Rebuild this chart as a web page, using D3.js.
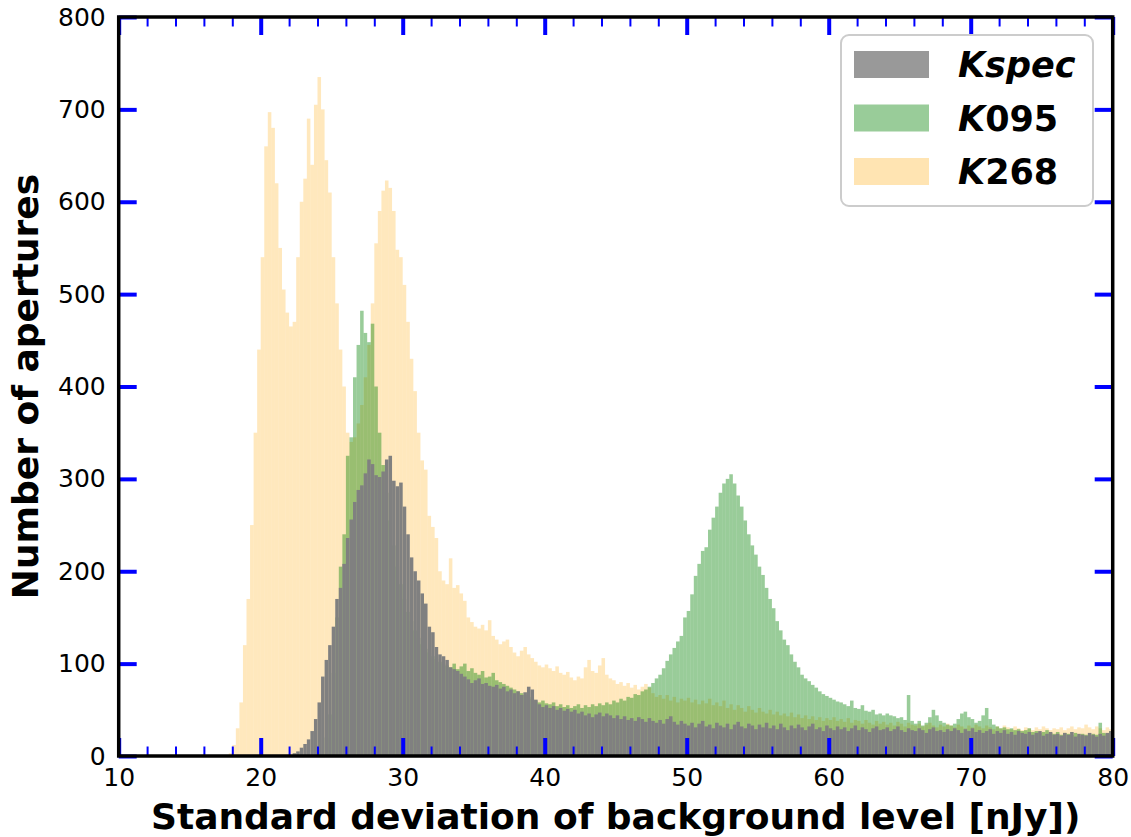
<!DOCTYPE html>
<html>
<head>
<meta charset="utf-8">
<script src="https://cdn.jsdelivr.net/npm/d3@7"></script>
<style>
  body { margin: 0; background: #fff; }
  text { font-family: "DejaVu Sans", sans-serif; }
</style>
</head>
<body>
<div id="chart"></div>
<script>
// histogram bins, width in nJy
var binWidth = 0.25;

// Kspec counts from 22.0 nJy
var kspecStart = 22.0;
var kspecCounts = [
  1, 3, 5, 9, 13, 18, 27, 40, 58, 86, 104, 120,
  140, 170, 182, 208, 236, 256, 275, 288, 293, 306, 321, 316,
  304, 302, 308, 321, 325, 298, 292, 296, 270, 240, 215, 200,
  190, 176, 165, 140, 134, 118, 110, 108, 104, 96, 94, 92,
  89, 86, 83, 79, 82, 84, 78, 79, 76, 75, 77, 73,
  75, 70, 72, 68, 70, 66, 69, 75, 72, 61, 56, 53,
  55, 52, 54, 50, 52, 49, 51, 48, 50, 46, 48, 44,
  46, 42, 45, 47, 43, 46, 44, 41, 44, 40, 43, 39,
  41, 38, 42, 40, 37, 41, 38, 36, 39, 35, 40, 43,
  37, 34, 38, 35,
  33, 36, 31, 35, 38, 32, 34, 30,
  36, 33, 31, 35, 29, 34, 37, 32,
  30, 35, 33, 29, 34, 31, 36, 30,
  33, 29, 35, 31, 28, 33, 30, 34,
  31, 28, 32, 35, 29, 31, 27, 33,
  30, 28, 32, 29, 31, 27, 30, 33,
  28, 31, 29, 26, 30, 32, 28, 29,
  31, 27, 29, 32, 28, 26, 30, 28,
  27, 30, 28, 25, 29, 31, 27, 28,
  26, 29, 27, 30, 28, 25, 29, 27,
  30, 26, 28, 25, 27, 29, 24, 27,
  25, 28, 24, 26, 23, 27, 25, 24,
  26, 23, 25, 27, 22, 24, 26, 23,
  24, 22, 25, 23, 26, 21, 24, 23,
  22, 25, 23, 21, 24, 22, 25, 27
];

// K095 counts from 24.5 nJy
var k095Start = 24.5;
var k095Counts = [
  20, 45,
  90, 150, 205, 240, 325, 345, 410, 445, 482, 458, 448, 468,
  400, 350, 315, 285, 255, 228, 205, 186, 170, 156, 146, 136,
  128, 121, 116, 112, 108, 105, 102, 100, 98, 96, 100, 94,
  97, 100, 92, 95, 90, 88, 92, 85, 86, 90, 82, 80,
  78, 76, 74, 72, 70, 68, 66, 64, 62, 60, 58, 60,
  57, 56, 58, 54, 56, 53, 55, 52, 54, 56, 52, 55,
  53, 56, 54, 57, 55, 58, 56, 60, 58, 62, 60, 64,
  63, 67, 66, 70, 72, 75, 79, 84, 88, 95, 103, 110,
  117, 124, 130, 150, 157, 175, 195, 208, 222, 226, 245, 258,
  270, 285, 295, 300, 305, 295, 282, 270, 255, 240, 228, 218,
  205, 196, 182, 170, 160, 146, 136, 126, 120, 110, 102, 96,
  88, 84, 81, 77, 74, 70, 67, 65, 63, 61, 59, 58,
  56, 54, 60, 52, 51, 55, 49, 48, 50, 45, 46, 44,
  46, 44, 43, 41, 42, 39, 66, 38, 35, 38, 33, 36,
  42, 50, 44, 38, 36, 34, 33, 35, 40, 46, 48, 42,
  40, 36, 38, 44, 52, 40, 34, 32, 30, 31, 29, 30,
  28, 29, 27, 28, 30, 26, 27, 25, 26, 28, 25, 24,
  26, 23, 25, 24, 23, 25, 22, 24, 23, 22, 24, 23,
  36, 25, 24, 27
];

// K268 counts from 17.75 nJy
var k268Start = 17.75;
var k268Counts = [
  3,
  12, 30, 58, 120, 170, 250, 350, 440, 540, 660, 697, 680,
  620, 550, 505, 480, 465, 470, 540, 600, 625, 690, 640, 705,
  735, 700, 645, 610, 540, 490, 440, 400, 350, 340, 345, 360,
  380, 410, 445, 490, 555, 590, 612, 623, 615, 590, 548, 540,
  510, 470, 430, 395, 350, 320, 310, 260, 248, 236, 200, 190,
  186, 214, 182, 185, 176, 168, 150, 145, 140, 138, 142, 136,
  147, 130, 126, 121, 124, 126, 118, 112, 108, 114, 118, 110,
  106, 102, 98, 96, 99, 95, 92, 97, 90, 88, 91, 85,
  82, 86, 84, 96, 104, 92, 90, 98, 106, 88, 84, 82,
  78, 80, 76, 79, 74, 77, 72, 75, 78, 74, 68, 64,
  66, 62, 66, 60, 64, 58, 62, 60,
  63, 58, 61, 56, 60, 57, 62, 55,
  58, 54, 60, 52, 56, 50, 55, 52,
  48, 54, 50, 47, 52, 48, 46, 50,
  45, 48, 44, 46, 43, 47, 42, 45,
  41, 44, 40, 43, 39, 42, 38, 41,
  39, 42, 38, 40, 37, 41, 36, 39,
  38, 35, 39, 36, 34, 38, 35, 37,
  34, 36, 33, 37, 35, 32, 36, 34,
  33, 35, 32, 34, 36, 33, 31, 34,
  32, 35, 33, 31, 34, 32, 30, 33,
  31, 34, 32, 30, 33, 31, 29, 32,
  30, 33, 31, 29, 32, 30, 28, 31,
  30, 28, 31, 29, 32, 30, 28, 30,
  29, 31, 28, 30, 32, 29, 31, 30,
  34, 31, 29, 32, 30, 28, 31, 29
];

var seriesNames = ["Kspec", "K095", "K268"];
var xTickValues = [10, 20, 30, 40, 50, 60, 70, 80];
var xMinorTickValues = [12, 14, 16, 18, 22, 24, 26, 28, 32, 34, 36, 38, 42, 44, 46, 48,
  52, 54, 56, 58, 62, 64, 66, 68, 72, 74, 76, 78];
var yTickValues = [0, 100, 200, 300, 400, 500, 600, 700, 800];

var svgWidth = 1131;
var svgHeight = 837;

var margin = {
  top: 17,
  right: 18.3,
  bottom: 81,
  left: 118.7
};

var width = svgWidth - margin.left - margin.right;
var height = svgHeight - margin.top - margin.bottom;

var svg = d3.select("#chart")
  .append("svg")
  .attr("width", svgWidth)
  .attr("height", svgHeight);

var chartGroup = svg.append("g")
  .attr("transform", `translate(${margin.left}, ${margin.top})`);

var xScale = d3.scaleLinear().domain([10, 80]).range([0, width]);
var yScale = d3.scaleLinear().domain([0, 800]).range([height, 0]);

function makeBins(start, counts) {
  return counts.map(function(c, i) {
    return { x0: start + i * binWidth, x1: start + (i + 1) * binWidth, count: c };
  });
}

// draw order: K268 underneath, then K095, Kspec on top
var layers = [
  { name: "K268", bins: makeBins(k268Start, k268Counts), fill: "#ffa500", opacity: 0.26 },
  { name: "K095", bins: makeBins(k095Start, k095Counts), fill: "#008000", opacity: 0.4 },
  { name: "Kspec", bins: makeBins(kspecStart, kspecCounts), fill: "#808080", opacity: 1 }
];

layers.forEach(function(layer) {
  chartGroup.append("g")
    .attr("fill", layer.fill)
    .attr("fill-opacity", layer.opacity)
    .selectAll("rect")
    .data(layer.bins)
    .enter()
    .append("rect")
    .attr("x", d => xScale(d.x0))
    .attr("width", d => xScale(d.x1) - xScale(d.x0))
    .attr("y", d => yScale(d.count))
    .attr("height", d => height - yScale(d.count));
});

// ticks point inwards on all four sides
function styleTicks(g, w) {
  g.select(".domain").remove();
  g.selectAll(".tick line").attr("stroke", "#0000ff").attr("stroke-width", w);
  g.selectAll(".tick text").attr("font-size", "25px").attr("fill", "#000");
}

chartGroup.append("g")
  .attr("transform", `translate(0, ${height})`)
  .call(d3.axisBottom(xScale).tickValues(xMinorTickValues).tickSizeInner(-9.5).tickFormat(""))
  .call(g => styleTicks(g, 2));
chartGroup.append("g")
  .call(d3.axisTop(xScale).tickValues(xMinorTickValues).tickSizeInner(-9.5).tickFormat(""))
  .call(g => styleTicks(g, 2));

chartGroup.append("g")
  .attr("transform", `translate(0, ${height})`)
  .call(d3.axisBottom(xScale).tickValues(xTickValues).tickSizeInner(-18).tickPadding(12)
    .tickFormat(d3.format("d")))
  .call(g => styleTicks(g, 4));
chartGroup.append("g")
  .call(d3.axisTop(xScale).tickValues(xTickValues).tickSizeInner(-18).tickFormat(""))
  .call(g => styleTicks(g, 4));

chartGroup.append("g")
  .call(d3.axisLeft(yScale).tickValues(yTickValues).tickSizeInner(-18).tickPadding(13)
    .tickFormat(d3.format("d")))
  .call(g => styleTicks(g, 4));
chartGroup.append("g")
  .attr("transform", `translate(${width}, 0)`)
  .call(d3.axisRight(yScale).tickValues(yTickValues).tickSizeInner(-18).tickFormat(""))
  .call(g => styleTicks(g, 4));

// frame
chartGroup.append("rect")
  .attr("width", width)
  .attr("height", height)
  .attr("fill", "none")
  .attr("stroke", "#000")
  .attr("stroke-width", 3.5);

// axis labels
svg.append("text")
  .attr("x", margin.left + width / 2)
  .attr("y", 829)
  .attr("text-anchor", "middle")
  .attr("font-size", "36px")
  .attr("font-weight", "bold")
  .text("Standard deviation of background level [nJy])");

svg.append("text")
  .attr("transform", `translate(38, ${margin.top + height / 2}) rotate(-90)`)
  .attr("text-anchor", "middle")
  .attr("font-size", "36px")
  .attr("font-weight", "bold")
  .text("Number of apertures");

// legend
var legend = svg.append("g").attr("transform", "translate(841, 35)");

legend.append("rect")
  .attr("width", 252)
  .attr("height", 171)
  .attr("rx", 8)
  .attr("fill", "#fff")
  .attr("fill-opacity", 0.8)
  .attr("stroke", "#cccccc")
  .attr("stroke-width", 2);

var legendItems = [
  { name: seriesNames[0], fill: "#808080", opacity: 0.8 },
  { name: seriesNames[1], fill: "#008000", opacity: 0.4 },
  { name: seriesNames[2], fill: "#ffa500", opacity: 0.3 }
];

legendItems.forEach(function(item, i) {
  var row = legend.append("g").attr("transform", `translate(0, ${29.5 + i * 53.5})`);
  row.append("rect")
    .attr("x", 13)
    .attr("y", -13.5)
    .attr("width", 75)
    .attr("height", 27)
    .attr("fill", item.fill)
    .attr("fill-opacity", item.opacity);
  var label = row.append("text")
    .attr("x", 117)
    .attr("y", 12.5)
    .attr("font-size", "35px")
    .attr("font-weight", "bold");
  if (item.name === "Kspec") {
    label.append("tspan").attr("font-style", "italic").text(item.name);
  } else {
    label.append("tspan").attr("font-style", "italic").text(item.name.charAt(0));
    label.append("tspan").text(item.name.slice(1));
  }
});
</script>
</body>
</html>
